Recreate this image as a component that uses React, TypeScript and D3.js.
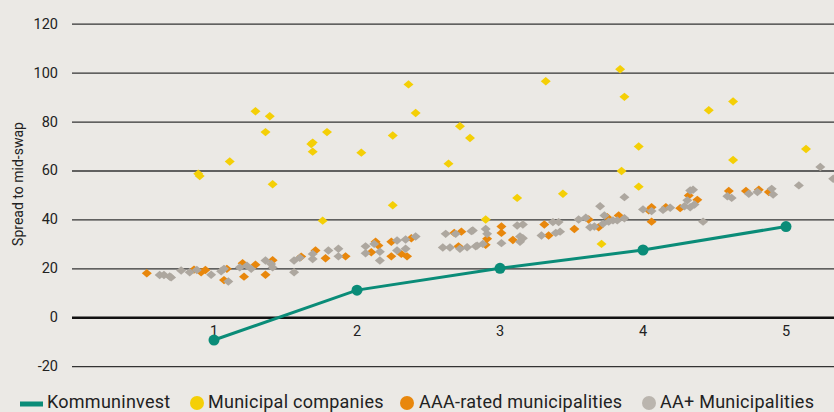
import React from "react";
import * as d3 from "d3";

// ---- data ----
const yTicks = [-20, 0, 20, 40, 60, 80, 100, 120];
const xTicks = [1, 2, 3, 4, 5];
const yTitle = "Spread to mid-swap";

const kommuninvestX = [1, 2, 3, 4, 5];
const kommuninvestY = [-9.1, 11.3, 20.2, 27.7, 37.3];

const municipalCompanies: [number, number][] = [
  [0.89, 58.9], [0.9, 57.9], [1.11, 63.9], [1.29, 84.4], [1.36, 75.9], [1.39, 82.4], [1.41, 54.6],
  [1.68, 71], [1.69, 71.6], [1.69, 67.9], [1.79, 75.9], [1.76, 39.7], [2.03, 67.5], [2.25, 74.5],
  [2.25, 46], [2.36, 95.4], [2.41, 83.7], [2.64, 63], [2.72, 78.3], [2.79, 73.5], [2.9, 40.2],
  [3.12, 49], [3.32, 96.7], [3.44, 50.7], [3.71, 30.2], [3.85, 60], [3.84, 101.6], [3.87, 90.3],
  [3.97, 70], [3.97, 53.6], [4.46, 84.8], [4.63, 88.4], [4.63, 64.5], [5.14, 69],
];

const aaaMunicipalities: [number, number][] = [
  [0.53, 18.2], [0.86, 19.7], [0.91, 18.6], [0.94, 19.5], [1.07, 15.4], [1.09, 20], [1.2, 22.3],
  [1.21, 16.8], [1.29, 21.7], [1.36, 17.6], [1.41, 23.5], [1.61, 25], [1.71, 27.5], [1.78, 24.3],
  [1.92, 25.1], [2.1, 26.8], [2.13, 31.1], [2.15, 29.5], [2.24, 31.1], [2.24, 25.1], [2.31, 26.1],
  [2.35, 25.1], [2.38, 32.5], [2.68, 34.7], [2.73, 35.2], [2.71, 29.2], [2.9, 29.8], [2.91, 32.3],
  [3.01, 37.3], [3.01, 34.7], [3.09, 31.8], [3.31, 38.1], [3.34, 33.6], [3.52, 36.3], [3.62, 40.2],
  [3.69, 37], [3.75, 41.1], [3.83, 41.8], [4.04, 43.9], [4.06, 45.2], [4.06, 39.3], [4.16, 45.2],
  [4.26, 44.8], [4.32, 50], [4.38, 48.2], [4.6, 51.8], [4.72, 51.8], [4.81, 52.3], [4.88, 51.4],
];

const aaPlusMunicipalities: [number, number][] = [
  [0.62, 17.5], [0.65, 17.5], [0.69, 16.9], [0.7, 16.5], [0.77, 19.3], [0.83, 18.6], [0.88, 19.5],
  [0.98, 17.6], [1.05, 19], [1.07, 20], [1.1, 14.8], [1.18, 20.6], [1.23, 21.3], [1.26, 20],
  [1.36, 23.4], [1.4, 22], [1.41, 20.6], [1.56, 23.4], [1.56, 18.6], [1.6, 24.5], [1.69, 26.1],
  [1.69, 24], [1.8, 27.5], [1.87, 28.2], [1.87, 25.1], [2.06, 29.2], [2.06, 26.4], [2.12, 30.2],
  [2.16, 27], [2.16, 23.4], [2.28, 31.6], [2.28, 27.5], [2.34, 28.2], [2.34, 32], [2.41, 33.2],
  [2.62, 34.3], [2.69, 34.3], [2.8, 35.4], [2.6, 28.7], [2.65, 28.7], [2.72, 28.2], [2.77, 28.8],
  [2.83, 29.2], [2.81, 35.7], [2.9, 36.3], [2.91, 34.3], [2.84, 29.5], [2.88, 30.2], [3.01, 30.5],
  [3.12, 37.7], [3.16, 38.1], [3.14, 33.2], [3.16, 32.5], [3.14, 31.1], [3.37, 39.1], [3.41, 39.1],
  [3.29, 33.6], [3.39, 34.7], [3.42, 35.2], [3.55, 40.2], [3.6, 40.9], [3.63, 37], [3.66, 37.3],
  [3.72, 38.4], [3.73, 41.8], [3.76, 39.3], [3.79, 39.8], [3.82, 39.8], [3.87, 40.7], [3.7, 45.6],
  [3.87, 49.3], [4.0, 44.3], [4.06, 43.6], [4.14, 44.1], [4.19, 45], [4.29, 45.6], [4.31, 48],
  [4.33, 52], [4.35, 52.3], [4.36, 46.3], [4.33, 45.2], [4.42, 39.3], [4.59, 49.7], [4.62, 49],
  [4.74, 50.7], [4.8, 51.4], [4.9, 52.7], [4.91, 50.4], [5.09, 54.1], [5.24, 61.6], [5.33, 56.8],
];

const legendLabels = ["Kommuninvest", "Municipal companies", "AAA-rated municipalities", "AA+ Municipalities"];

// ---- style / layout ----
const W = 834;
const H = 412;
const BG = "#ebe9e5";
const TEAL = "#0a8c78";
const YELLOW = "#f4cf06";
const ORANGE = "#e8870c";
const GRAY = "#ada79f";
const FONT = "Roboto, 'Open Sans', sans-serif";
const legendTextX = [47, 208, 419, 660];

const x = d3.scaleLinear().domain([0, 6]).range([71, 929]);
const y = d3.scaleLinear().domain([-20, 120]).range([366.7, 24.2]);
const plotLeft = 72;

const diamond = (cx: number, cy: number) =>
  `M${cx},${cy - 4.2}L${cx + 5},${cy}L${cx},${cy + 4.2}L${cx - 5},${cy}Z`;

export default function App() {
  React.useEffect(() => {
    document.body.style.margin = "0";
    document.body.style.background = BG;
  }, []);

  const line = d3
    .line<number>()
    .x((_, i) => x(kommuninvestX[i]))
    .y((d) => y(d));

  return (
    <div style={{ position: "fixed", left: 0, top: 0, width: W, height: H, background: BG }}>
      <svg width={W} height={H} style={{ display: "block", fontFamily: FONT }}>
        <rect width={W} height={H} fill={BG} />
        <defs>
          <clipPath id="plot">
            <rect x={plotLeft} y={0} width={W - plotLeft} height={380} />
          </clipPath>
        </defs>
        {/* gridlines */}
        {yTicks.map((t) => (
          <g key={t}>
            <line
              x1={plotLeft}
              x2={W}
              y1={y(t)}
              y2={y(t)}
              stroke={t === 0 ? "#111" : "#333"}
              strokeWidth={t === 0 ? 2.6 : 1.3}
            />
            <text
              x={58}
              y={y(t)}
              textAnchor="end"
              dominantBaseline="central"
              fontSize={14.5}
              fill="#222"
            >
              {t}
            </text>
          </g>
        ))}
        {/* x tick labels */}
        {xTicks.map((t) => (
          <text key={t} x={x(t)} y={336} textAnchor="middle" fontSize={14.5} fill="#222">
            {t}
          </text>
        ))}
        {/* y title */}
        <text
          transform={`translate(23,184) rotate(-90)`}
          textAnchor="middle"
          fontSize={14}
          fill="#222"
        >
          {yTitle}
        </text>
        <g clipPath="url(#plot)">
          {municipalCompanies.map(([a, b], i) => (
            <path key={"y" + i} d={diamond(x(a), y(b))} fill={YELLOW} />
          ))}
          {aaaMunicipalities.map(([a, b], i) => (
            <path key={"o" + i} d={diamond(x(a), y(b))} fill={ORANGE} />
          ))}
          {aaPlusMunicipalities.map(([a, b], i) => (
            <path key={"g" + i} d={diamond(x(a), y(b))} fill={GRAY} />
          ))}
          <path d={line(kommuninvestY) || ""} fill="none" stroke={TEAL} strokeWidth={3} />
          {kommuninvestY.map((v, i) => (
            <circle key={"k" + i} cx={x(kommuninvestX[i])} cy={y(v)} r={5.5} fill={TEAL} />
          ))}
        </g>
        {/* legend */}
        <g fontSize={18} fill="#222">
          <rect x={20} y={401.5} width={23} height={5} fill={TEAL} />
          <circle cx={legendTextX[1] - 11} cy={403} r={7} fill={YELLOW} />
          <circle cx={legendTextX[2] - 12} cy={403} r={7} fill={ORANGE} />
          <circle cx={legendTextX[3] - 11} cy={403} r={7} fill={"#bab5ae"} />
          {legendLabels.map((l, i) => (
            <text key={l} x={legendTextX[i]} y={408} letterSpacing={0.25}>
              {l}
            </text>
          ))}
        </g>
      </svg>
    </div>
  );
}
